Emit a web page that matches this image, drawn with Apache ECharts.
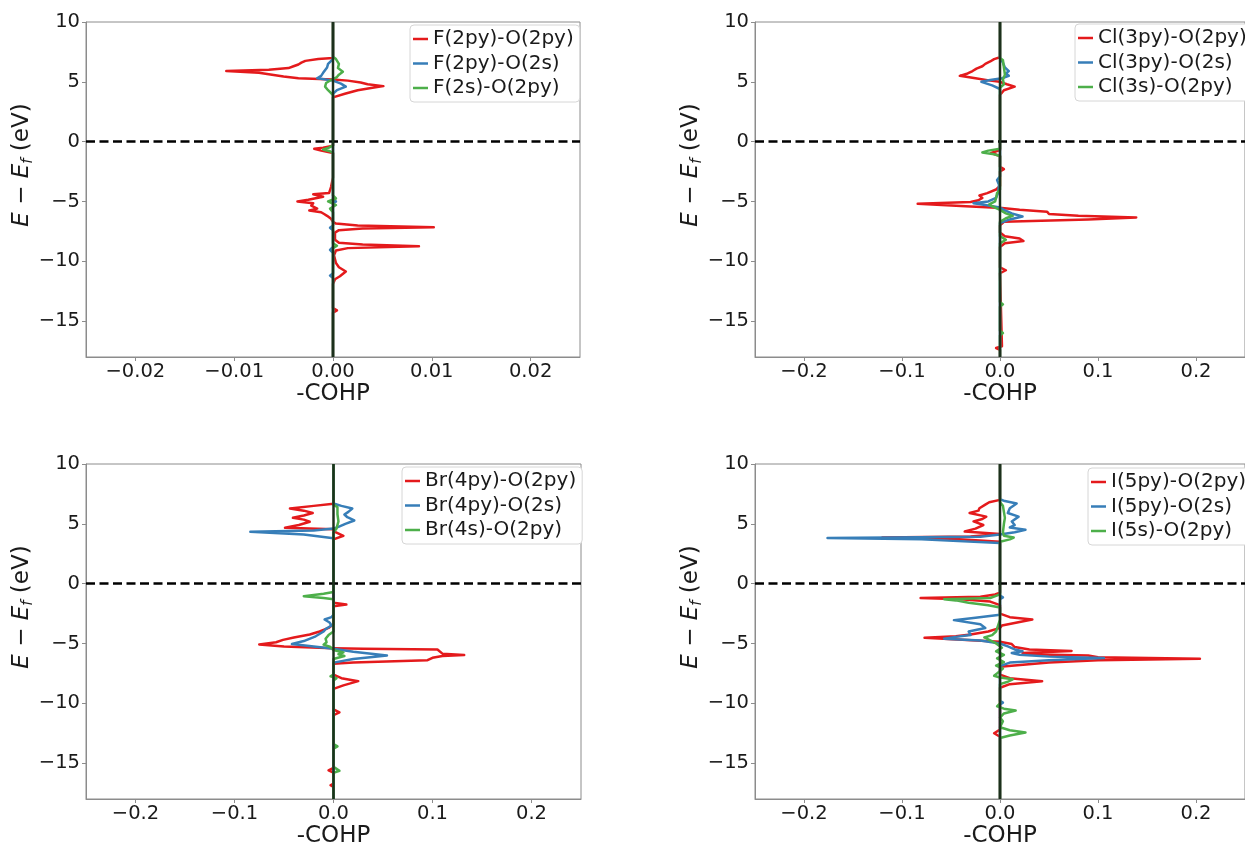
<!DOCTYPE html>
<html>
<head>
<meta charset="utf-8">
<script src="https://cdn.jsdelivr.net/npm/echarts@6/dist/echarts.min.js"></script>
<style>
html,body{margin:0;padding:0;background:#fff;}
#chart{width:1245px;height:850px;}
</style>
</head>
<body>
<div id="chart"></div>
<script>
// ---- data: [energy (eV), -COHP] pairs ----
const F_NAMES = ['F(2py)-O(2py)', 'F(2py)-O(2s)', 'F(2s)-O(2py)'];
const CL_NAMES = ['Cl(3py)-O(2py)', 'Cl(3py)-O(2s)', 'Cl(3s)-O(2py)'];
const BR_NAMES = ['Br(4py)-O(2py)', 'Br(4py)-O(2s)', 'Br(4s)-O(2py)'];
const I_NAMES = ['I(5py)-O(2py)', 'I(5py)-O(2s)', 'I(5s)-O(2py)'];

const X_TICKS_SMALL = [-0.02, -0.01, 0, 0.01, 0.02];
const X_TICKS_LARGE = [-0.2, -0.1, 0, 0.1, 0.2];
const Y_TICKS = [-15, -10, -5, 0, 5, 10];

const F_RED = [
[-18,0],[-14.3,0],[-14.1,0.0004],[-13.9,0],
[-11.9,0],[-11.5,0.0002],[-11.25,0.0007],[-10.85,0.0013],[-10.5,0.0006],[-10.15,0.0003],[-9.5,0.0001],[-9.1,0.0003],
[-8.9,0.0015],[-8.75,0.0087],[-8.6,0.0030],[-8.45,0.0006],[-8.2,0.0002],
[-7.6,0.0002],[-7.4,0.0006],[-7.25,0.0030],[-7.15,0.0102],[-7.0,0.0025],[-6.85,0.0003],[-6.7,0],
[-6.45,-0.0002],[-6.2,-0.0006],[-6.05,-0.0009],[-5.9,-0.0012],[-5.75,-0.0024],[-5.6,-0.0016],[-5.47,-0.0014],[-5.35,-0.0022],[-5.25,-0.0024],[-5.15,-0.0020],[-5.0,-0.0036],[-4.85,-0.0025],[-4.6,-0.0010],[-4.4,-0.0020],[-4.3,-0.0004],[-3.8,-0.0002],[-3.0,0],
[-0.95,0],[-0.75,-0.0012],[-0.6,-0.0019],[-0.5,-0.0010],[-0.35,0],
[3.7,0],[4.0,0.0012],[4.3,0.0025],[4.5,0.0040],[4.64,0.0051],[4.8,0.0035],[4.95,0.0028],[5.1,0.0015],[5.2,0],
[5.3,-0.0035],[5.45,-0.0050],[5.6,-0.0052],[5.75,-0.0075],[5.9,-0.0108],[6.0,-0.0065],[6.15,-0.0045],[6.3,-0.0040],[6.45,-0.0035],[6.6,-0.0032],[6.75,-0.0028],[6.9,-0.0015],[7.0,0],[10,0]
];
const F_BLUE = [
[-18,0],[-11.4,0],[-11.2,-0.0003],[-11.0,0],[-9.3,0],[-9.05,-0.0003],[-8.8,0],[-7.4,0],[-7.2,-0.0003],[-7.0,0],[-5.2,0],[-5.0,0.0003],[-4.8,0],
[4.0,0],[4.3,0.0004],[4.6,0.0013],[4.85,0.0008],[5.1,0],[5.3,-0.0016],[5.5,-0.0012],[5.75,-0.0010],[5.9,-0.0011],[6.2,-0.0006],[6.5,-0.0005],[6.9,0],[10,0]
];
const F_GREEN = [
[-18,0],[-8.9,0],[-8.7,0.0004],[-8.5,0],[-5.9,0],[-5.6,-0.0003],[-5.3,0.0003],[-5.0,-0.0005],[-4.75,0.0003],[-4.5,0],
[-0.95,0],[-0.8,-0.0003],[-0.65,-0.0010],[-0.5,-0.0004],[-0.3,0],
[3.9,0],[4.3,-0.0005],[4.6,-0.0008],[4.9,-0.0007],[5.15,-0.0002],[5.4,0.0004],[5.6,0.0006],[5.85,0.0010],[6.15,0.0005],[6.5,0.0006],[6.9,0.0003],[7.1,0],[10,0]
];

const CL_RED = [
[-18,0],[-17.4,0],[-17.25,-0.004],[-17.1,0.002],[-16.95,0],
[-11.0,0],[-10.75,0.006],[-10.5,0],
[-8.8,0],[-8.5,0.005],[-8.3,0.024],[-8.1,0.020],[-7.9,0.005],[-7.6,0],
[-7.0,0],[-6.7,0.004],[-6.5,0.09],[-6.33,0.139],[-6.2,0.08],[-6.05,0.050],[-5.85,0.048],[-5.7,0.020],[-5.55,0.002],[-5.4,-0.035],[-5.2,-0.084],[-5.05,-0.030],[-4.9,-0.022],[-4.7,-0.018],[-4.5,-0.021],[-4.3,-0.013],[-4.0,-0.004],[-3.7,0],
[-2.5,0],[-2.3,0.004],[-2.1,0],
[-1.2,0],[-0.95,-0.009],[-0.7,0],
[3.9,0],[4.3,0.004],[4.6,0.015],[4.8,0.007],[5.0,0],[5.1,-0.010],[5.3,-0.025],[5.5,-0.041],[5.7,-0.033],[5.9,-0.028],[6.1,-0.024],[6.3,-0.018],[6.5,-0.015],[6.7,-0.010],[6.9,-0.006],[7.05,0],[10,0]
];
const CL_BLUE = [
[-18,0],[-6.8,0],[-6.5,0.010],[-6.25,0.023],[-6.0,0.012],[-5.7,0.004],[-5.5,0],[-5.3,-0.015],[-5.15,-0.027],[-5.0,-0.012],[-4.7,-0.004],[-4.3,-0.002],[-3.6,-0.001],[-3.2,-0.003],[-2.9,0],
[4.4,0],[4.7,-0.008],[5.0,-0.019],[5.15,-0.010],[5.3,0.002],[5.5,0.009],[5.7,0.006],[5.9,0.009],[6.2,0.005],[6.6,0.003],[7.0,0],[10,0]
];
const CL_GREEN = [
[-18,0],[-16.2,0],[-16.0,0.003],[-15.8,0],[-13.8,0],[-13.6,0.003],[-13.4,0],
[-8.5,0],[-8.2,0.006],[-7.9,0],
[-6.7,0],[-6.4,0.006],[-6.2,0.013],[-6.0,0.006],[-5.7,0],[-5.4,-0.008],[-5.25,-0.011],[-5.0,-0.005],[-4.7,-0.004],[-4.3,-0.003],[-4.0,0],
[-1.2,0],[-1.05,-0.006],[-0.9,-0.018],[-0.75,-0.012],[-0.6,0],
[4.5,0],[4.8,0.004],[5.2,0.003],[5.6,0.005],[6.2,0.004],[6.8,0.003],[7.0,0],[10,0]
];

const BR_RED = [
[-18,0],[-17.0,0],[-16.85,-0.003],[-16.7,0],[-15.8,0],[-15.6,-0.005],[-15.4,0],
[-11.0,0],[-10.75,0.006],[-10.5,0],
[-8.8,0],[-8.5,0.010],[-8.15,0.025],[-7.9,0.008],[-7.6,0],
[-6.7,0],[-6.6,0.02],[-6.4,0.095],[-6.2,0.100],[-6.05,0.110],[-5.97,0.132],[-5.85,0.110],[-5.7,0.108],[-5.5,0.105],[-5.45,0.030],[-5.4,0],
[-5.25,-0.050],[-5.08,-0.075],[-4.9,-0.058],[-4.7,-0.051],[-4.5,-0.040],[-4.25,-0.024],[-4.0,-0.014],[-3.7,-0.005],[-3.4,0],
[-1.9,0],[-1.75,0.013],[-1.6,0],
[3.7,0],[4.0,0.010],[4.3,0.002],[4.55,0],[4.67,-0.049],[4.9,-0.035],[5.17,-0.024],[5.35,-0.030],[5.5,-0.041],[5.7,-0.030],[5.9,-0.021],[6.1,-0.030],[6.28,-0.044],[6.5,-0.020],[6.67,0],[10,0]
];
const BR_BLUE = [
[-18,0],[-6.6,0],[-6.3,0.02],[-6.0,0.054],[-5.7,0.02],[-5.45,0],[-5.25,-0.02],[-5.05,-0.042],[-4.8,-0.030],[-4.4,-0.018],[-4.0,-0.010],[-3.8,-0.008],[-3.5,-0.002],[-3.25,-0.004],[-3.0,-0.009],[-2.8,-0.002],[-2.6,0],
[3.8,0],[4.1,-0.03],[4.33,-0.084],[4.45,-0.02],[4.6,0],[4.75,0.005],[5.0,0.012],[5.28,0.021],[5.55,0.014],[5.78,0.011],[6.0,0.015],[6.28,0.019],[6.5,0.008],[6.7,0],[10,0]
];
const BR_GREEN = [
[-18,0],[-15.8,0],[-15.65,0.006],[-15.5,0.006],[-15.3,0],[-13.8,0],[-13.6,0.004],[-13.4,0],
[-8.1,0],[-7.9,0.003],[-7.75,-0.003],[-7.6,0],
[-6.3,0],[-6.05,0.011],[-5.9,0.005],[-5.75,0.010],[-5.55,0],[-5.3,-0.003],[-5.1,-0.010],[-4.9,-0.007],[-4.6,-0.008],[-4.3,-0.005],[-4.0,0],
[-1.3,0],[-1.2,-0.010],[-1.05,-0.030],[-0.85,-0.010],[-0.7,0],
[4.3,0],[4.6,0.003],[5.2,0.005],[5.8,0.004],[6.4,0.004],[6.6,0],[10,0]
];

const I_RED = [
[-18,0],[-14.4,0],[-14.25,-0.002],[-14.1,0],
[-12.8,0],[-12.5,-0.006],[-12.2,0],
[-8.7,0],[-8.4,0.010],[-8.15,0.043],[-7.9,0.010],[-7.6,0],
[-6.95,0],[-6.6,0.05],[-6.4,0.10],[-6.27,0.204],[-6.15,0.10],[-6.0,0.09],[-5.9,0.03],[-5.8,0.023],[-5.62,0.073],[-5.5,0.03],[-5.3,0.015],[-5.05,0.012],[-4.85,0],
[-4.53,-0.077],[-4.4,-0.045],[-4.25,-0.030],[-4.0,-0.012],[-3.7,0],[-3.5,0.002],[-3.2,0.02],[-3.0,0.033],[-2.8,0.010],[-2.5,0],
[-1.8,0],[-1.5,-0.010],[-1.3,-0.040],[-1.2,-0.081],[-1.1,-0.020],[-0.9,-0.005],[-0.75,0],
[3.5,0],[3.75,-0.05],[3.85,-0.12],[3.95,-0.03],[4.15,0],[4.36,-0.036],[4.6,-0.025],[4.9,-0.017],[5.2,-0.027],[5.4,-0.018],[5.6,-0.014],[5.9,-0.031],[6.1,-0.022],[6.3,-0.021],[6.6,-0.015],[6.8,-0.011],[7.0,0],[10,0]
];
const I_BLUE = [
[-18,0],[-10.1,0],[-9.95,0.003],[-9.8,0],
[-6.9,0],[-6.6,0.01],[-6.4,0.05],[-6.22,0.106],[-6.1,0.05],[-5.95,0.02],[-5.8,0.012],[-5.65,0.023],[-5.5,0.015],[-5.25,0.008],[-5.0,0],
[-4.75,-0.02],[-4.6,-0.057],[-4.45,-0.045],[-4.3,-0.03],[-4.0,-0.032],[-3.7,-0.015],[-3.4,-0.02],[-3.05,-0.047],[-2.85,-0.025],[-2.6,0],
[-1.3,0],[-1.15,0.003],[-1.0,0],
[3.4,0],[3.7,-0.08],[3.82,-0.176],[3.92,-0.02],[4.1,0],[4.3,0.015],[4.5,0.026],[4.7,0.010],[4.9,0.015],[5.2,0.012],[5.6,0.019],[5.9,0.008],[6.3,0.010],[6.7,0.017],[6.9,0.005],[7.05,0],[10,0]
];
const I_GREEN = [
[-18,0],[-12.9,0],[-12.7,0.010],[-12.45,0.026],[-12.25,0.010],[-12.0,0],[-11.5,0.003],[-11.2,0],
[-10.85,0.004],[-10.6,0.016],[-10.45,0.004],[-10.25,-0.003],[-10.0,0],
[-8.4,0],[-8.2,0.008],[-8.0,0.013],[-7.85,0],[-7.7,-0.006],[-7.5,-0.003],[-7.3,0],[-7.1,0.003],[-6.85,-0.004],[-6.55,0.004],[-6.25,-0.003],[-5.95,0.004],[-5.65,-0.004],[-5.35,0.002],[-5.0,-0.004],[-4.75,-0.010],[-4.5,-0.016],[-4.3,-0.008],[-4.0,-0.004],[-3.5,-0.002],[-3.0,0],
[-2.0,0],[-1.8,-0.012],[-1.6,-0.032],[-1.4,-0.045],[-1.3,-0.057],[-1.2,-0.010],[-0.9,0],
[3.5,0],[3.7,0.010],[3.85,0.014],[4.0,0.004],[4.3,0.003],[5.0,0.004],[5.5,0.005],[6.0,0.004],[6.5,0.003],[6.8,0],[10,0]
];

// ---- layout / style ----
const FONT = 'DejaVu Sans';
const COLORS = ['#e41a1c', '#377eb8', '#4daf4a'];
const TXT = '#1a1a1a';
const SPINE = '#8c8c8c';

const PANELS = [
  { names: F_NAMES, data: [F_RED, F_BLUE, F_GREEN], xmax: 0.025, xticks: X_TICKS_SMALL, digits: 2,
    grid: { left: 86, top: 22, width: 494, height: 335 }, legend: { left: 410, top: 25 }, ylab: [22, 165] },
  { names: CL_NAMES, data: [CL_RED, CL_BLUE, CL_GREEN], xmax: 0.25, xticks: X_TICKS_LARGE, digits: 1,
    grid: { left: 755, top: 22, width: 498, height: 335 }, legend: { left: 1075, top: 24 }, ylab: [691, 165] },
  { names: BR_NAMES, data: [BR_RED, BR_BLUE, BR_GREEN], xmax: 0.25, xticks: X_TICKS_LARGE, digits: 1,
    grid: { left: 86, top: 464, width: 495, height: 335 }, legend: { left: 402, top: 467 }, ylab: [22, 607] },
  { names: I_NAMES, data: [I_RED, I_BLUE, I_GREEN], xmax: 0.25, xticks: X_TICKS_LARGE, digits: 1,
    grid: { left: 755, top: 464, width: 498, height: 335 }, legend: { left: 1088, top: 468 }, ylab: [691, 607] }
];

const minus = s => s.replace('-', '\u2212');

const grids = [], xAxes = [], yAxes = [], series = [], legends = [], graphics = [];
PANELS.forEach((p, i) => {
  grids.push(Object.assign({ show: true, borderColor: SPINE, borderWidth: 1, backgroundColor: 'transparent', containLabel: false }, p.grid));
  xAxes.push({
    type: 'value', gridIndex: i, min: -p.xmax, max: p.xmax,
    name: '-COHP', nameLocation: 'middle', nameGap: 26,
    nameTextStyle: { fontFamily: FONT, fontSize: 23, color: TXT },
    axisLine: { show: true, onZero: false, lineStyle: { color: SPINE, width: 1 } },
    axisTick: { show: true, inside: false, length: 4, customValues: p.xticks, lineStyle: { color: SPINE } },
    axisLabel: { customValues: p.xticks, margin: 5, fontFamily: FONT, fontSize: 19.5, color: TXT,
      formatter: v => minus(Number(v).toFixed(p.digits)) },
    splitLine: { show: false }
  });
  yAxes.push({
    type: 'value', gridIndex: i, min: -18, max: 10,
    axisLine: { show: true, onZero: false, lineStyle: { color: SPINE, width: 1 } },
    axisTick: { show: true, inside: false, length: 4, customValues: Y_TICKS, lineStyle: { color: SPINE } },
    axisLabel: { customValues: Y_TICKS, margin: 6, fontFamily: FONT, fontSize: 19.5, color: TXT,
      formatter: v => minus(String(v)) },
    splitLine: { show: false }
  });
  p.data.forEach((arr, k) => {
    series.push({
      type: 'line', name: p.names[k], xAxisIndex: i, yAxisIndex: i,
      data: arr.map(d => [d[1], d[0]]),
      showSymbol: false, symbol: 'none', z: 2 + k,
      color: COLORS[k],
      lineStyle: { color: COLORS[k], width: 2.5, join: 'round' },
      animation: false, silent: true
    });
  });
  // reference lines: x = 0 (solid) and E = 0 (dashed)
  series.push({
    type: 'line', name: 'ref' + i, xAxisIndex: i, yAxisIndex: i,
    data: [[0, -18], [0, 10]], showSymbol: false, symbol: 'none', z: 10,
    lineStyle: { color: '#1c301c', width: 2.5 }, animation: false, silent: true,
    markLine: {
      silent: true, symbol: ['none', 'none'], label: { show: false }, animation: false,
      lineStyle: { color: '#000', width: 2.5, type: [9, 4.5] },
      data: [{ yAxis: 0 }]
    }
  });
  legends.push({
    left: p.legend.left, top: p.legend.top, orient: 'vertical', data: p.names,
    icon: 'rect', itemWidth: 15, itemHeight: 2.5, itemGap: 4.5, selectedMode: false,
    textStyle: { fontFamily: FONT, fontSize: 20, color: TXT, lineHeight: 20 },
    backgroundColor: '#fff', borderColor: '#d6d6d6', borderWidth: 1, borderRadius: 4,
    padding: [4, 6, 4, 3]
  });
  graphics.push({
    type: 'text', x: p.ylab[0], y: p.ylab[1], rotation: Math.PI / 2,
    style: {
      text: '{i|E} \u2212 {i|E}{s|f} (eV)',
      fontFamily: FONT, fontSize: 23, fill: TXT, lineHeight: 28,
      textAlign: 'center', textVerticalAlign: 'middle', align: 'center', verticalAlign: 'middle',
      rich: {
        i: { fontFamily: FONT, fontSize: 23, fontStyle: 'italic', lineHeight: 28, verticalAlign: 'middle' },
        s: { fontFamily: FONT, fontSize: 15, fontStyle: 'italic', lineHeight: 15, verticalAlign: 'bottom' }
      }
    }
  });
});

const chart = echarts.init(document.getElementById('chart'), null, { renderer: 'canvas' });
chart.setOption({
  animation: false,
  backgroundColor: '#fff',
  grid: grids, xAxis: xAxes, yAxis: yAxes, series: series, legend: legends,
  graphic: graphics
});
</script>
</body>
</html>
